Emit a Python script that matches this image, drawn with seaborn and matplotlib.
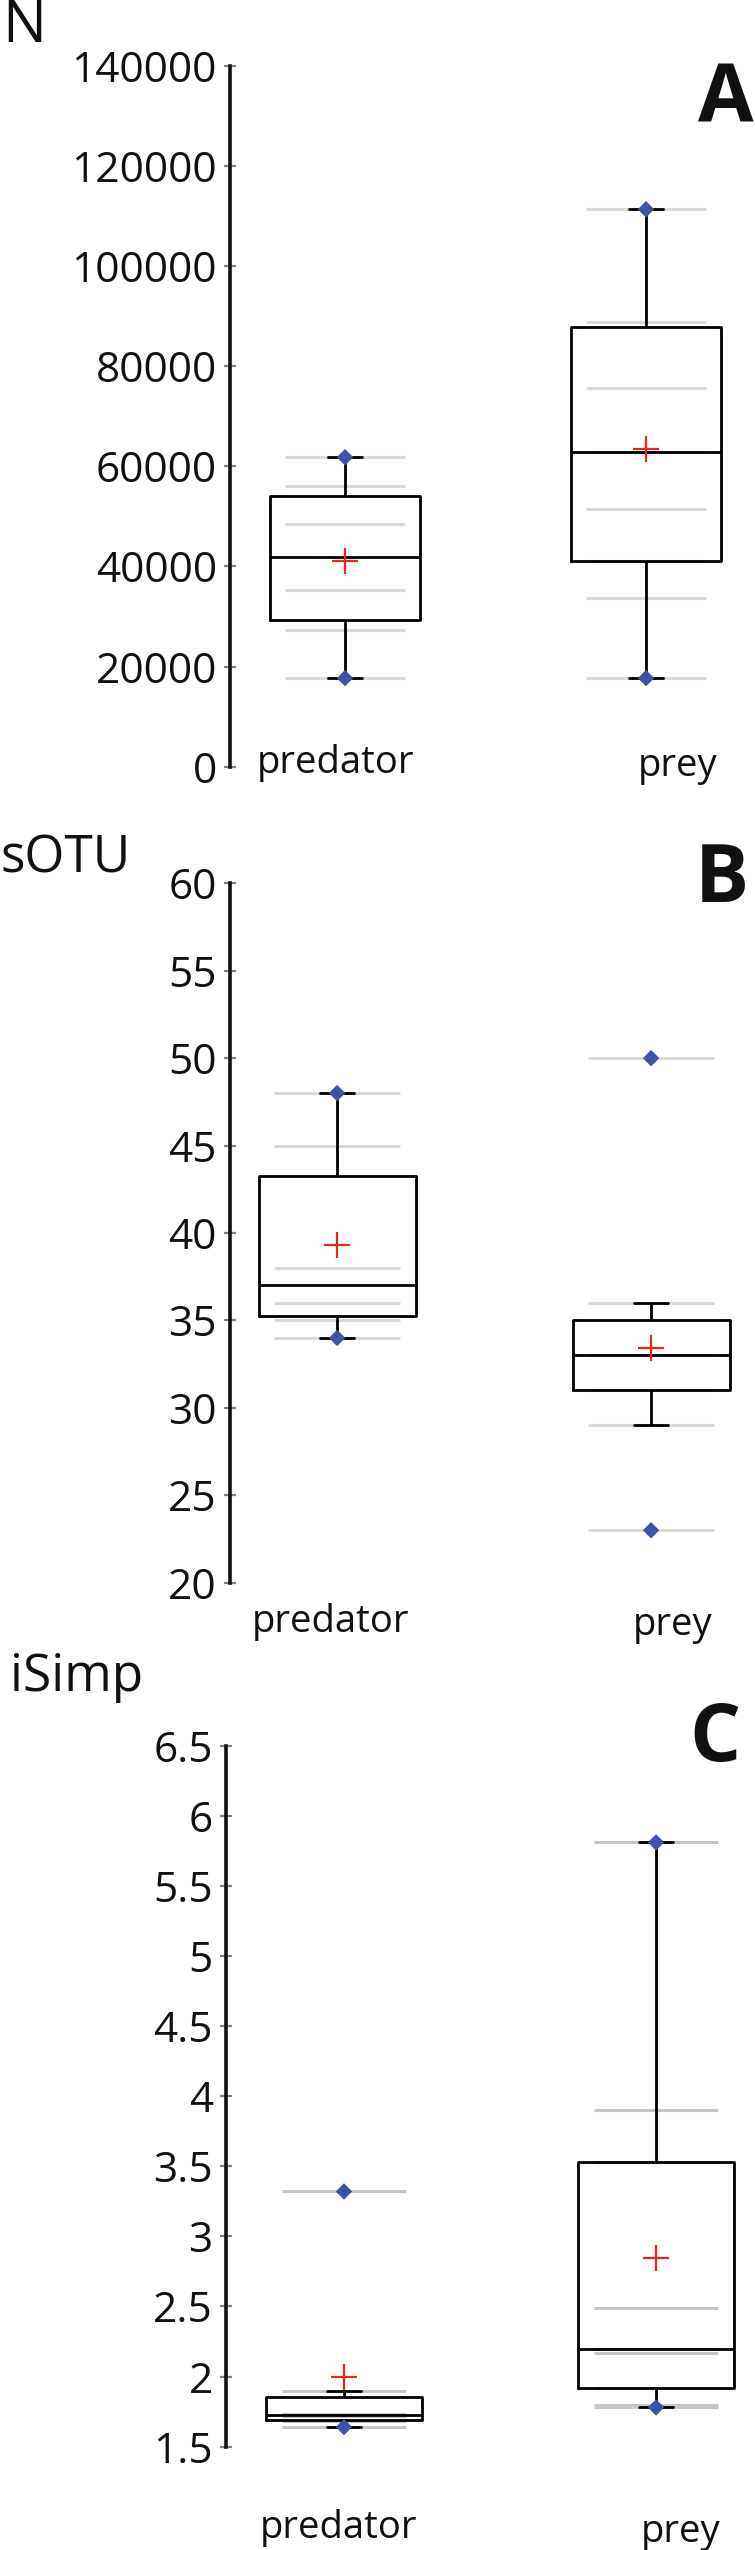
import numpy as np
import pandas as pd
import matplotlib
matplotlib.use("Agg")
import matplotlib.pyplot as plt
import matplotlib.transforms as mtransforms
import seaborn as sns

# values (one list per group and panel)
groups = ["predator", "prey"]

N_predator = [17700, 27300, 35200, 48500, 56000, 61800]
N_prey = [17700, 33700, 41100, 51400, 62800, 75600, 87800, 88700, 111300]

sOTU_predator = [34, 35, 36, 38, 45, 48]
sOTU_prey = [23, 29, 31, 31, 33, 33, 35, 36, 50]

iSimp_predator = [1.64, 1.68, 1.72, 1.73, 1.90, 3.32]
iSimp_prey = [1.78, 1.80, 1.92, 2.17, 2.20, 2.49, 3.53, 3.90, 5.81]

panel_titles = ["N", "sOTU", "iSimp"]
panel_letters = ["A", "B", "C"]
N_ticks = [0, 20000, 40000, 60000, 80000, 100000, 120000, 140000]
sOTU_ticks = [20, 25, 30, 35, 40, 45, 50, 55, 60]
iSimp_ticks = [1.5, 2, 2.5, 3, 3.5, 4, 4.5, 5, 5.5, 6, 6.5]

W, H = 755, 2550


def fx(x):
    return x / W


def fy(y):
    return 1 - y / H


sns.set_style("white")
plt.rcParams["font.family"] = ["Open Sans", "DejaVu Sans"]

fig = plt.figure(figsize=(W / 100, H / 100), dpi=100)

panels = [
    dict(data=(N_predator, N_prey), ticks=N_ticks, left=230, top=65.5, bottom=766.8,
         xlim=(-0.382, 1.362), grey="#dadada", lab_off=(-0.03, 0.106), lab_y=(-0.009, -0.013),
         title_xy=(2, 42), title_size=42, letter_xy=(754, 123)),
    dict(data=(sOTU_predator, sOTU_prey), ticks=sOTU_ticks, left=230, top=883.3, bottom=1582.7,
         xlim=(-0.341, 1.331), grey="#dadada", lab_off=(-0.022, 0.067), lab_y=(-0.071, -0.075),
         title_xy=(0, 872), title_size=37, letter_xy=(749, 902)),
    dict(data=(iSimp_predator, iSimp_prey), ticks=iSimp_ticks, left=226, top=1745.6, bottom=2446.7,
         xlim=(-0.378, 1.317), grey="#c6c6c6", lab_off=(-0.016, 0.077), lab_y=(-0.130, -0.136),
         title_xy=(10, 1691), title_size=37, letter_xy=(741, 1761)),
]

for p, title, letter in zip(panels, panel_titles, panel_letters):
    ax = fig.add_axes([fx(p["left"]), fy(p["bottom"]), fx(W - p["left"]),
                       (p["bottom"] - p["top"]) / H])
    pred, prey = p["data"]
    df = pd.DataFrame({
        "group": [groups[0]] * len(pred) + [groups[1]] * len(prey),
        "value": list(pred) + list(prey),
    })

    # individual observations as grey dashes behind the boxes
    for i, vals in enumerate([pred, prey]):
        ax.hlines(vals, i - 0.2, i + 0.2, color=p["grey"], lw=2.2, zorder=1)

    sns.boxplot(data=df, x="group", y="value", order=groups, ax=ax, width=0.5,
                fill=False, color="black", linewidth=2.0, showfliers=False,
                whis=1.5, zorder=2)

    # narrow whisker caps
    for ln in ax.lines:
        xd, yd = np.asarray(ln.get_xdata(), float), np.asarray(ln.get_ydata(), float)
        if len(xd) == 2 and yd[0] == yd[1] and abs(xd[1] - xd[0]) < 0.45:
            c = xd.mean()
            ln.set_xdata([c - 0.055, c + 0.055])

    pos = np.arange(len(groups))
    means = [np.mean(pred), np.mean(prey)]
    mins = [np.min(pred), np.min(prey)]
    maxs = [np.max(pred), np.max(prey)]
    sns.scatterplot(x=np.r_[pos, pos], y=mins + maxs, marker="D", s=70,
                    color="#4150a8", edgecolor="none", ax=ax, zorder=4, legend=False)
    sns.scatterplot(x=pos, y=means, marker="+", s=330, color="#e8281f",
                    linewidth=1.6, ax=ax, zorder=5, legend=False)

    ax.set_xlim(*p["xlim"])
    ax.set_ylim(p["ticks"][0], p["ticks"][-1])
    ax.set_yticks(p["ticks"])
    ax.set_yticklabels([f"{t:g}" for t in p["ticks"]])
    ax.set_xticks([])
    ax.set_xlabel("")
    ax.set_ylabel("")
    for s in ["top", "right", "bottom"]:
        ax.spines[s].set_visible(False)
    ax.spines["left"].set_linewidth(2.6)
    ax.spines["left"].set_color("#111111")
    ax.tick_params(axis="y", left=True, direction="inout", length=9, width=1.6,
                   color="#808080", labelsize=30.5, labelcolor="#111111", pad=5)
    ax.patch.set_alpha(0)

    trans = mtransforms.blended_transform_factory(ax.transData, ax.transAxes)
    for i, g in enumerate(groups):
        ax.text(i + p["lab_off"][i], p["lab_y"][i], g, transform=trans, ha="center",
                va="baseline", fontsize=27.5, color="#111111", clip_on=False)

    fig.text(fx(p["title_xy"][0]), fy(p["title_xy"][1]), title, ha="left", va="baseline",
             fontsize=p["title_size"], color="#111111")
    fig.text(fx(p["letter_xy"][0]), fy(p["letter_xy"][1]), letter, ha="right", va="baseline",
             fontsize=58, fontweight="bold", color="#111111")

fig.savefig("out.png", dpi=100)
